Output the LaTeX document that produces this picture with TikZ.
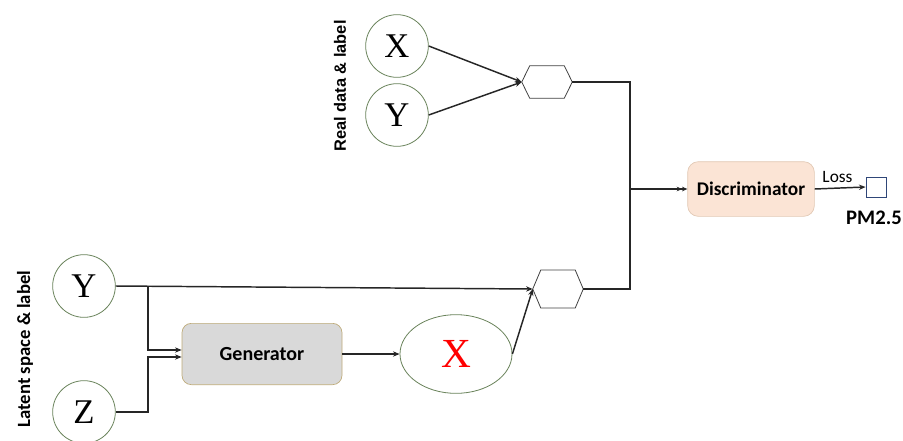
\documentclass[tikz,border=0pt]{standalone}
\usepackage{fontspec}
\setmainfont{Liberation Serif}
\newfontfamily\calib{Carlito}
\newfontfamily\arialf{Liberation Sans}
\usetikzlibrary{arrows.meta,calc,shapes.geometric}
\definecolor{ringgreen}{RGB}{105,130,90}
\definecolor{genfill}{RGB}{217,217,217}
\definecolor{genedge}{RGB}{190,170,120}
\definecolor{discfill}{RGB}{251,228,213}
\definecolor{discedge}{RGB}{225,200,180}
\definecolor{pmedge}{RGB}{47,70,120}
\tikzset{
  ring/.style={circle, draw=ringgreen, line width=0.6pt, minimum size=47pt, inner sep=0pt,
    font=\fontsize{26}{28}\selectfont},
  hexbox/.style={rectangle, draw=none, minimum width=37.5pt, inner sep=0pt},
  hexline/.style={draw=black!75, line width=0.6pt},
  wire/.style={draw=black!85, line width=1.1pt},
  arr/.style={wire, -{Stealth[length=5pt,width=4pt]}},
  dblarr/.style={wire, -{Stealth[length=4pt,width=3.5pt]Stealth[length=4pt,width=3.5pt]}},
  sidelabel/.style={rotate=90, anchor=center},
}
\newcommand{\hexpath}[1]{%
  \draw[hexline] (#1.west) -- ($(#1.north west)+(8,0)$) -- ($(#1.north east)+(-8,0)$)
    -- (#1.east) -- ($(#1.south east)+(-8,0)$) -- ($(#1.south west)+(8,0)$) -- cycle;}
\begin{document}
\begin{tikzpicture}[x=0.75pt,y=-0.75pt]
\useasboundingbox (0,0) rectangle (903,440);

% real data branch
\node[ring] (rx) at (397,46) {X};
\node[ring] (ry) at (397,115) {Y};
\node[sidelabel, font=\arialf\bfseries\fontsize{12.3}{14}\selectfont] (rlab) at (340,86) {Real data \& label};
\node[hexbox, minimum height=24pt] (h1) at (547,82) {};
\hexpath{h1}
\draw[arr] (rx.east) -- (h1.west);
\draw[arr] (ry.east) -- (h1.west);

% latent branch
\node[ring] (ly) at (84,286) {Y};
\node[ring] (lz) at (84,412) {Z};
\node[sidelabel, font=\calib\bfseries\fontsize{14}{16}\selectfont] (llab) at (25,349) {Latent space \& label};
\node[rectangle, rounded corners=7pt, fill=genfill, draw=genedge, line width=0.5pt,
  minimum width=120pt, minimum height=46pt, font=\calib\bfseries\fontsize{15}{17}\selectfont] (gen) at (262,354) {Generator};
\node[ellipse, draw=ringgreen, line width=0.6pt, minimum width=84pt, minimum height=59pt,
  inner sep=0pt, text=red, font=\fontsize{31}{33}\selectfont] (lx) at (456,354) {X};
\node[hexbox, minimum height=28pt] (h2) at (558,289) {};
\hexpath{h2}

\coordinate (ysplit) at (148,286);
\coordinate (zbend) at (148,412);
\coordinate (gin1) at ($(gen.west)+(0,-4)$);
\coordinate (gin2) at ($(gen.west)+(0,3)$);
\draw[arr] (ly.east) -- (h2.west);
\draw[arr] (ysplit) |- (gin1);
\draw[arr] (lz.east) -- (zbend) |- (gin2);
\draw[arr] (gen.east) -- (lx.west);
\draw[arr] (lx.east) -- (h2.west);

% discriminator
\coordinate (bus) at (630,189);
\node[rectangle, rounded corners=8pt, fill=discfill, draw=discedge, line width=0.5pt,
  minimum width=95pt, minimum height=41pt, font=\calib\bfseries\fontsize{14.5}{16}\selectfont] (disc) at (751,189) {Discriminator};
\draw[wire] (h1.east) -| (bus);
\draw[wire] (h2.east) -| (bus);
\draw[dblarr] (bus) -- (disc.west);

\node[rectangle, draw=pmedge, line width=0.6pt, minimum size=15pt, inner sep=0pt] (pm) at (876,187) {};
\draw[arr] (disc.east) -- node[above, font=\calib\fontsize{13}{15}\selectfont, xshift=-2pt] (loss) {Loss} (pm.west);
\node[font=\calib\bfseries\fontsize{15.5}{17}\selectfont] (pmlab) at (874,218) {PM2.5};
\end{tikzpicture}
\end{document}
